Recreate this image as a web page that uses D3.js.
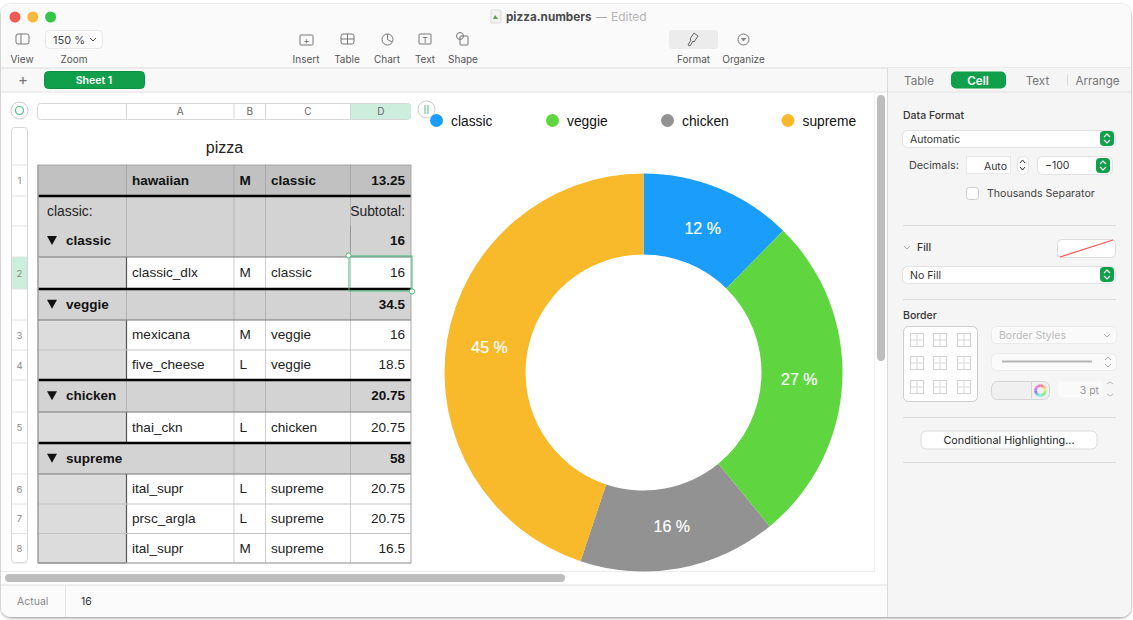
<!DOCTYPE html>
<html>
<head>
<meta charset="utf-8">
<title>pizza.numbers</title>
<script src="https://cdn.jsdelivr.net/npm/d3@7"></script>
<style>
  html, body { margin: 0; padding: 0; background: #fff; overflow: hidden; }
  svg { display: block; }
  text { font-family: "Liberation Sans", sans-serif; }
  .ui text, text.ui { font-family: Inter, "Noto Sans", sans-serif; }
</style>
</head>
<body>
<div id="chart"></div>
<script>
// chart data
const categories = ['classic', 'veggie', 'chicken', 'supreme'];
const totals = [16, 34.5, 20.75, 58];
const colors = ['#1a9dfb', '#5fd63f', '#929292', '#f8b92b'];

// table data
const columnNames = ['', 'A', 'B', 'C', 'D'];
const headerRow = ['', 'hawaiian', 'M', 'classic', '13.25'];
const tableRows = [
    {type: 'group', name: 'classic', num: '', total: '16', tall: true},
    {type: 'item', name: 'classic_dlx', size: 'M', cat: 'classic', price: '16', num: '2'},
    {type: 'group', name: 'veggie', num: '', total: '34.5'},
    {type: 'item', name: 'mexicana', size: 'M', cat: 'veggie', price: '16', num: '3'},
    {type: 'item', name: 'five_cheese', size: 'L', cat: 'veggie', price: '18.5', num: '4'},
    {type: 'group', name: 'chicken', num: '', total: '20.75'},
    {type: 'item', name: 'thai_ckn', size: 'L', cat: 'chicken', price: '20.75', num: '5'},
    {type: 'group', name: 'supreme', num: '', total: '58'},
    {type: 'item', name: 'ital_supr', size: 'L', cat: 'supreme', price: '20.75', num: '6'},
    {type: 'item', name: 'prsc_argla', size: 'L', cat: 'supreme', price: '20.75', num: '7'},
    {type: 'item', name: 'ital_supr', size: 'M', cat: 'supreme', price: '16.5', num: '8'}
];

// toolbar labels
const toolLabels = ['Insert', 'Table', 'Chart', 'Text', 'Shape'];
const inspectorTabs = ['Table', 'Cell', 'Text', 'Arrange'];

const width = 1133, height = 620;

const svg = d3.select('#chart').append('svg')
    .attr('width', width)
    .attr('height', height);

const defs = svg.append('defs');
const shadow = defs.append('filter').attr('id', 'shadow')
    .attr('x', '-2%').attr('y', '-2%').attr('width', '104%').attr('height', '104%');
shadow.append('feDropShadow')
    .attr('dx', 0).attr('dy', 1).attr('stdDeviation', 1.5)
    .attr('flood-color', '#000').attr('flood-opacity', 0.45);
defs.append('clipPath').attr('id', 'win')
    .append('rect').attr('x', 1).attr('y', 4).attr('width', 1130).attr('height', 613).attr('rx', 10);

function label(g, x, y, str, opts = {}) {
    return g.append('text')
        .attr('x', x).attr('y', y)
        .attr('text-anchor', opts.anchor || 'start')
        .attr('font-size', opts.size || 13)
        .attr('font-weight', opts.weight || 400)
        .attr('fill', opts.fill || '#111')
        .text(str);
}

function line(g, x1, y1, x2, y2, stroke, w = 1) {
    return g.append('line')
        .attr('x1', x1).attr('y1', y1).attr('x2', x2).attr('y2', y2)
        .attr('stroke', stroke).attr('stroke-width', w);
}

function box(g, x, y, w, h, fill, stroke, r = 0) {
    return g.append('rect')
        .attr('x', x).attr('y', y).attr('width', w).attr('height', h)
        .attr('rx', r).attr('fill', fill).attr('stroke', stroke || 'none');
}

svg.append('rect')
    .attr('x', 1).attr('y', 4).attr('width', 1130).attr('height', 613).attr('rx', 10)
    .attr('fill', '#fff').attr('filter', 'url(#shadow)');

const win = svg.append('g').attr('clip-path', 'url(#win)');
drawChrome(win.append('g').attr('class', 'ui'));
drawInspector(win.append('g').attr('class', 'ui'));
drawGutters(win.append('g').attr('class', 'ui'));
drawTable(win.append('g'));
drawDonut(win.append('g'));

function drawChrome(g) {
    box(g, 1, 4, 1130, 64, '#fafafa');
    box(g, 1, 68, 1130, 24, '#f8f8f8');
    line(g, 1, 68, 1131, 68, '#dcdcdc');
    line(g, 1, 92, 1131, 92, '#e2e2e2');

    // traffic lights
    g.selectAll('circle.light')
        .data(['#f05a52', '#f6b93b', '#35c548'])
        .join('circle')
        .attr('cx', (d, i) => 15 + i * 17.8).attr('cy', 17).attr('r', 5.5)
        .attr('fill', d => d);

    // title
    box(g, 491, 10, 10, 13, '#f2f2f2', '#ddd', 1);
    g.append('path').attr('d', 'M493 19 l2 -4 l3 4 z').attr('fill', '#5fa04e');
    label(g, 506, 21, 'pizza.numbers', {size: 11.7, weight: 700, fill: '#4a4a4a'});
    label(g, 596, 21, '\u2014', {size: 11, fill: '#aaa'});
    label(g, 611, 21, 'Edited', {size: 12, fill: '#b5b5b5'});

    // view + zoom
    box(g, 16, 34, 13, 10, 'none', '#777', 2);
    line(g, 21, 34, 21, 44, '#777');
    label(g, 22, 63, 'View', {size: 10, anchor: 'middle', fill: '#555'});
    box(g, 45.5, 30.5, 57, 18, '#fdfdfd', '#e8e8e8', 4);
    label(g, 53, 44, '150 %', {size: 11, fill: '#444'});
    g.append('path').attr('d', 'M90 38 l3 3 l3 -3').attr('fill', 'none').attr('stroke', '#555');
    label(g, 74, 63, 'Zoom', {size: 10, anchor: 'middle', fill: '#555'});

    // middle toolbar
    const toolX = d3.scaleOrdinal().domain(toolLabels).range([306, 347, 387, 425, 463]);
    toolLabels.forEach(t => {
        label(g, toolX(t), 63, t, {size: 10, anchor: 'middle', fill: '#555'});
    });
    box(g, 300, 35, 13, 10, 'none', '#777', 1);
    label(g, 306.5, 44, '+', {size: 9, anchor: 'middle', fill: '#666'});
    box(g, 341, 34, 13, 10, 'none', '#777', 2);
    line(g, 341, 39, 354, 39, '#777');
    line(g, 347.5, 34, 347.5, 44, '#777');
    g.append('circle').attr('cx', 387.5).attr('cy', 39.5).attr('r', 5.5).attr('fill', 'none').attr('stroke', '#777');
    g.append('path').attr('d', 'M387.5 39.5 V34 M387.5 39.5 L392 42').attr('stroke', '#777').attr('fill', 'none');
    box(g, 419, 34, 12, 10, 'none', '#777', 1);
    label(g, 425, 43, 'T', {size: 8, anchor: 'middle', fill: '#666'});
    box(g, 460, 36, 8, 9, '#fafafa', '#777', 1);
    g.append('circle').attr('cx', 460).attr('cy', 36).attr('r', 3.5).attr('fill', 'none').attr('stroke', '#777');

    // format + organize
    box(g, 669, 30, 49, 19, '#ececec', null, 4);
    g.append('path').attr('d', 'M688 45 l3 -5 l-1 -1 l4 -6 l4 3 l-4 6 l-1 -1 l-3 5 z')
        .attr('fill', 'none').attr('stroke', '#666');
    label(g, 693.5, 63, 'Format', {size: 10, anchor: 'middle', fill: '#555'});
    g.append('circle').attr('cx', 743.5).attr('cy', 39.5).attr('r', 5.5).attr('fill', 'none').attr('stroke', '#777');
    g.append('path').attr('d', 'M740.5 38 h6 l-3 3.5 z').attr('fill', '#888');
    label(g, 743.5, 63, 'Organize', {size: 10, anchor: 'middle', fill: '#555'});

    // sheet tabs
    label(g, 23, 85, '+', {size: 15, anchor: 'middle', fill: '#777'});
    box(g, 44.5, 71.5, 100, 17, '#10a04c', '#0d8f43', 4);
    label(g, 94, 84, 'Sheet 1', {size: 10.5, weight: 600, anchor: 'middle', fill: '#fff'});

    // status bar
    box(g, 1, 585, 887, 32, '#fbfbfb');
    line(g, 1, 585, 888, 585, '#e0e0e0');
    line(g, 65.5, 585, 65.5, 617, '#e4e4e4');
    label(g, 17, 605, 'Actual', {size: 10.5, fill: '#888'});
    label(g, 81, 605, totals[0], {size: 10.5, fill: '#333'});

    // scroll bars
    box(g, 877, 95, 8, 266, '#bdbdbd', null, 4);
    line(g, 874.5, 92, 874.5, 572, '#eee');
    line(g, 1, 571.5, 874, 571.5, '#eee');
    box(g, 5, 574, 560, 8, '#bdbdbd', null, 4);
}

function drawInspector(g) {
    box(g, 888, 68, 243, 549, '#f5f5f5');
    line(g, 887.5, 68, 887.5, 617, '#dadada');
    line(g, 888, 92, 1131, 92, '#e2e2e2');
    const tabX = d3.scaleOrdinal().domain(inspectorTabs).range([919, 978, 1037.5, 1097.5]);
    box(g, 951, 71.5, 55, 17, '#10a04c', null, 5);
    inspectorTabs.forEach(t => {
        const on = t === 'Cell';
        label(g, tabX(t), 85, t, {size: 11.6, anchor: 'middle', weight: on ? 600 : 400, fill: on ? '#fff' : '#777'});
    });
    line(g, 1067.5, 74, 1067.5, 86, '#ddd');

    const field = (x, y, w, h, str) => {
        box(g, x + .5, y + .5, w, h, '#fff', '#e2e2e2', 5);
        if (str) label(g, x + 8, y + 13, str, {size: 10.5, fill: '#333'});
    };
    const stepper = (x, y) => {
        box(g, x, y, 14, 15, '#10a04c', null, 4);
        g.append('path').attr('d', `M${x + 4} ${y + 6} l3 -3 l3 3 M${x + 4} ${y + 9} l3 3 l3 -3`)
            .attr('stroke', '#fff').attr('stroke-width', 1.2).attr('fill', 'none');
    };

    label(g, 903, 119, 'Data Format', {size: 10.5, weight: 500, fill: '#333'});
    field(902, 130, 213, 17, 'Automatic');
    stepper(1100, 131);
    label(g, 909, 169, 'Decimals:', {size: 10.8, fill: '#444'});
    box(g, 966.5, 156.5, 44, 17, '#fff', '#e9e9e9');
    label(g, 1007, 170, 'Auto', {size: 10.5, anchor: 'end', fill: '#333'});
    field(1017, 156, 11, 18);
    g.append('path').attr('d', 'M1020 163 l2.5 -3 l2.5 3 M1020 167 l2.5 3 l2.5 -3').attr('stroke', '#333').attr('fill', 'none');
    field(1037, 156, 75, 18, '\u2212100');
    stepper(1096, 158);
    box(g, 966.5, 187.5, 12, 12, '#fff', '#ccc', 3);
    label(g, 987, 197, 'Thousands Separator', {size: 10.6, fill: '#444'});

    line(g, 903, 225.5, 1116, 225.5, '#ddd');
    g.append('path').attr('d', 'M904 246 l3 3 l3 -3').attr('stroke', '#aaa').attr('fill', 'none');
    label(g, 917, 251, 'Fill', {size: 10.5, weight: 500, fill: '#333'});
    box(g, 1057.5, 239.5, 58, 18, '#fff', '#ddd', 4);
    line(g, 1060, 257, 1113, 240, '#f4504c', 1.2);
    field(902, 266, 213, 17, 'No Fill');
    stepper(1100, 267);

    line(g, 903, 299.5, 1116, 299.5, '#ddd');
    label(g, 903, 319, 'Border', {size: 10.5, weight: 500, fill: '#333'});
    box(g, 903.5, 326.5, 74, 75, '#fff', '#ccc', 5);
    const cellX = [917, 940, 964];
    const cellY = [340, 363, 387];
    cellY.forEach(y => cellX.forEach(x => {
        box(g, x - 6.5, y - 6.5, 13, 13, 'none', '#d2d2d2');
        line(g, x - 6.5, y, x + 6.5, y, '#d8d8d8');
        line(g, x, y - 6.5, x, y + 6.5, '#d8d8d8');
    }));
    box(g, 991.5, 326.5, 125, 17, '#fafafa', '#ebebeb', 5);
    label(g, 999, 339, 'Border Styles', {size: 10.5, fill: '#bbb'});
    g.append('path').attr('d', 'M1104 334 l3 3 l3 -3').attr('stroke', '#aaa').attr('fill', 'none');
    box(g, 991.5, 353.5, 125, 17, '#fafafa', '#ebebeb', 5);
    line(g, 1002, 361.5, 1092, 361.5, '#b5b5b5', 2);
    g.append('path').attr('d', 'M1105 360 l3 -3 l3 3 M1105 364 l3 3 l3 -3').attr('stroke', '#aaa').attr('fill', 'none');
    box(g, 991.5, 381.5, 58, 18, '#f0f0f0', '#d5d5d5', 6);
    line(g, 1031.5, 382, 1031.5, 399, '#d5d5d5');
    // colour wheel
    const wheel = d3.pie().value(1)(d3.range(12));
    g.append('g').attr('transform', 'translate(1040.5, 390.5)')
        .selectAll('path')
        .data(wheel)
        .join('path')
        .attr('d', d3.arc().innerRadius(3.5).outerRadius(6.3))
        .attr('fill', (d, i) => d3.hsl(i * 30, 0.75, 0.72));
    box(g, 1058.5, 381.5, 44, 16, '#fafafa', null);
    label(g, 1099, 394, '3 pt', {size: 10.5, anchor: 'end', fill: '#999'});
    g.append('path').attr('d', 'M1107 384 l3 -2 l3 2 M1107 394 l3 2 l3 -2').attr('stroke', '#bbb').attr('fill', 'none');

    line(g, 903, 417.5, 1116, 417.5, '#ddd');
    box(g, 921, 431, 176, 18, '#fff', '#dcdcdc', 5);
    label(g, 1009, 444, 'Conditional Highlighting...', {size: 10.8, anchor: 'middle', fill: '#222'});
    line(g, 903, 462.5, 1116, 462.5, '#ddd');
}

function rowEdges() {
    // top of the gray band, then the bottom edge of every table row
    return [196, 257, 289, 320, 350, 380, 412, 443, 474, 504, 533.5, 563];
}

function drawGutters(g) {
    // column gutter
    const cols = [38, 126.5, 234, 265.5, 350.5, 411];
    box(g, 37.5, 103.5, 373, 16, '#fff', '#d6d6d6', 3);
    box(g, cols[4], 104, cols[5] - cols[4], 15, '#cdeedd');
    columnNames.forEach((c, i) => {
        if (i) line(g, cols[i], 104, cols[i], 119, '#d6d6d6');
        label(g, (cols[i] + cols[i + 1]) / 2, 115, c, {size: 10, anchor: 'middle', fill: '#666'});
    });

    // corner + pause handles
    g.append('circle').attr('cx', 19.5).attr('cy', 110.5).attr('r', 8.5).attr('fill', '#fff').attr('stroke', '#ccc');
    g.append('circle').attr('cx', 19.5).attr('cy', 110.5).attr('r', 4).attr('fill', 'none').attr('stroke', '#4cc07f').attr('stroke-width', 1.2);
    g.append('circle').attr('cx', 426.5).attr('cy', 109.5).attr('r', 8.5).attr('fill', '#fff').attr('stroke', '#ccc');
    line(g, 425, 105, 425, 114, '#4cc07f');
    line(g, 428, 105, 428, 114, '#4cc07f');

    // row gutter
    const edges = rowEdges();
    box(g, 11.5, 127.5, 16, 435, '#fff', '#d6d6d6', 3);
    line(g, 12, 165, 27, 165, '#e2e2e2');
    label(g, 19.5, 184, '1', {size: 9.5, anchor: 'middle', fill: '#888'});
    tableRows.forEach((r, i) => {
        const y0 = edges[i], y1 = edges[i + 1];
        if (r.num === '2') box(g, 12, y0, 15, y1 - y0, '#cdeedd');
        line(g, 12, y1, 27, y1, '#e2e2e2');
        if (r.num) label(g, 19.5, (y0 + y1) / 2 + 3.5, r.num, {size: 9.5, anchor: 'middle', fill: '#888'});
    });
    line(g, 12, 196, 27, 196, '#e2e2e2');
    line(g, 12, 226, 27, 226, '#e2e2e2');
}

function drawTable(g) {
    const cols = [38, 126.5, 234, 265.5, 350.5, 411];
    const edges = rowEdges();
    const boldSize = 13.5, textSize = 13.6;

    label(g, 224.5, 153, 'pizza', {size: 16, anchor: 'middle', fill: '#222'});

    // header row
    box(g, cols[0], 165, cols[5] - cols[0], 31, '#c0c1c0');
    headerRow.forEach((d, i) => {
        if (i === 4) label(g, cols[5] - 6, 184.5, d, {size: boldSize, weight: 700, anchor: 'end'});
        else if (d) label(g, cols[i] + 5.5, 184.5, d, {size: boldSize, weight: 700});
    });
    cols.slice(1, 5).forEach(x => line(g, x, 165, x, 196, '#a9a9a9'));

    // body rows
    const body = g.selectAll('g.row')
        .data(tableRows)
        .join('g')
        .attr('class', 'row');

    body.each(function (r, i) {
        const row = d3.select(this);
        const y0 = edges[i], y1 = edges[i + 1];
        const baseline = y1 - (y1 - y0) / 2 + 4.3;
        if (r.type === 'group') {
            box(row, cols[0], y0, cols[5] - cols[0], y1 - y0, '#d3d3d3');
            cols.slice(1, 5).forEach(x => {
                if (!(r.name === 'supreme' && x === cols[1])) line(row, x, y0, x, y1, '#b4b4b4');
            });
            if (r.tall) {
                label(row, 47, 216, 'classic:', {size: 13.9, fill: '#222'});
                label(row, cols[5] - 6, 216, 'Subtotal:', {size: 13.9, anchor: 'end', fill: '#222'});
            }
            const by = r.tall ? 245 : baseline;
            row.append('path').attr('d', `M47 ${by - 9} h10 l-5 9 z`).attr('fill', '#111');
            label(row, 66, by, r.name, {size: boldSize, weight: 700});
            label(row, cols[5] - 6, by, r.total, {size: boldSize, weight: 700, anchor: 'end'});
        } else {
            box(row, cols[0], y0, cols[1] - cols[0], y1 - y0, '#dcdcdc');
            box(row, cols[1], y0, cols[5] - cols[1], y1 - y0, '#fff');
            cols.slice(2, 5).forEach(x => line(row, x, y0, x, y1, '#cfcfcf'));
            line(row, cols[1], y0, cols[1], y1, '#555', 1.2);
            label(row, cols[1] + 5.5, baseline, r.name, {size: textSize, fill: '#222'});
            label(row, cols[2] + 5.5, baseline, r.size, {size: textSize, fill: '#222'});
            label(row, cols[3] + 5.5, baseline, r.cat, {size: textSize, fill: '#222'});
            label(row, cols[5] - 6, baseline, r.price, {size: textSize, anchor: 'end', fill: '#222'});
        }
    });

    // row rules: heavy above a group, lighter below it
    tableRows.forEach((r, i) => {
        const bottom = edges[i + 1];
        const next = tableRows[i + 1];
        if (next && next.type === 'group') line(g, cols[0], bottom, cols[5], bottom, '#000', 2.6);
        else if (r.type === 'group') line(g, cols[0], bottom, cols[5], bottom, '#777', 1);
        else line(g, cols[0], bottom, cols[5], bottom, '#c4c4c4', 1);
    });
    line(g, cols[0], 196, cols[5], 196, '#000', 2.6);
    g.append('rect').attr('x', cols[0]).attr('y', 165).attr('width', cols[5] - cols[0]).attr('height', 398)
        .attr('fill', 'none').attr('stroke', '#a5a5a5');
    line(g, cols[0], 563, cols[1], 563, '#888');
    line(g, cols[0], 165, cols[0], 563, '#999');

    // selection
    const sel = '#45b97c';
    g.append('rect').attr('x', 349).attr('y', 256).attr('width', 63).attr('height', 35)
        .attr('fill', 'none').attr('stroke', sel).attr('stroke-width', 1);
    line(g, 350.5, 226, 350.5, 252, '#999');
    [[348.5, 255.5], [412, 291.5]].forEach(p => {
        g.append('circle').attr('cx', p[0]).attr('cy', p[1]).attr('r', 2.6)
            .attr('fill', '#fff').attr('stroke', sel);
    });
}

function drawDonut(g) {
    const cx = 643.5, cy = 372.5;
    const color = d3.scaleOrdinal().domain(categories).range(colors);
    const sum = d3.sum(totals);

    const pie = d3.pie().sort(null)(totals);
    const arc = d3.arc().innerRadius(118).outerRadius(199);
    const labelArc = d3.arc().innerRadius(156).outerRadius(156);

    const chart = g.append('g').attr('transform', `translate(${cx}, ${cy})`);
    chart.selectAll('path')
        .data(pie)
        .join('path')
        .attr('d', arc)
        .attr('fill', (d, i) => color(categories[i]));

    chart.selectAll('text')
        .data(pie)
        .join('text')
        .attr('transform', d => `translate(${labelArc.centroid(d)})`)
        .attr('dy', '0.35em')
        .attr('text-anchor', 'middle')
        .attr('font-size', 16)
        .attr('fill', '#fff')
        .attr('stroke', '#fff')
        .attr('stroke-width', 0.2)
        .text(d => `${Math.round(d.value / sum * 100)} %`);

    // legend
    const legendX = d3.scaleOrdinal().domain(categories).range([436.5, 552.5, 667.5, 788]);
    const legend = g.selectAll('g.legend')
        .data(categories)
        .join('g')
        .attr('class', 'legend')
        .attr('transform', d => `translate(${legendX(d)}, 120.5)`);
    legend.append('circle').attr('r', 6.5).attr('fill', d => color(d));
    legend.append('text')
        .attr('x', 14.5).attr('y', 5)
        .attr('font-size', 13.8)
        .attr('fill', '#111')
        .text(d => d);
}
</script>
</body>
</html>
